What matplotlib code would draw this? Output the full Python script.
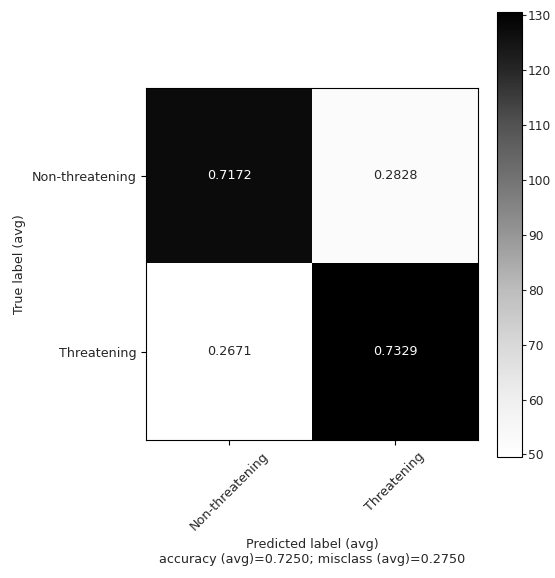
import numpy as np
import matplotlib
matplotlib.use("Agg")
import matplotlib.pyplot as plt

# averaged counts (used for the colours) and normalized values (printed)
labels = ['Non-threatening', 'Threatening']
counts = np.array([[127.4, 52.0],
                   [49.5, 130.6]])
normalized = np.array([[0.7172, 0.2828],
                       [0.2671, 0.7329]])
accuracy = 0.7250
misclass = 0.2750

txt = '#262626'
fig = plt.figure(figsize=(5.55, 5.78), dpi=100)
ax = fig.add_axes([0.263, 0.239, 0.598, 0.609])
cax = fig.add_axes([0.895, 0.209, 0.045, 0.770])

im = ax.imshow(counts, interpolation='nearest', cmap=plt.cm.Greys, aspect='auto')
cb = fig.colorbar(im, cax=cax)
cb.set_ticks([50, 60, 70, 80, 90, 100, 110, 120, 130])
cb.ax.tick_params(labelsize=8.8, colors=txt, pad=1.5, length=3)

tick_marks = np.arange(len(labels))
ax.set_xticks(tick_marks)
ax.set_xticklabels(labels, rotation=45, fontsize=9.2, color=txt)
ax.set_yticks(tick_marks)
ax.set_yticklabels(labels, fontsize=9.2, color=txt)

thresh = counts.max() / 2
for i in range(counts.shape[0]):
    for j in range(counts.shape[1]):
        ax.text(j, i, "{:0.4f}".format(normalized[i, j]),
                ha="center", va="center", fontsize=9.2,
                color="white" if counts[i, j] > thresh else txt)

ax.set_ylabel('True label (avg)', fontsize=9.2, color=txt)
ax.set_xlabel('Predicted label (avg)\naccuracy (avg)={:0.4f}; misclass (avg)={:0.4f}'.format(accuracy, misclass),
              fontsize=9.2, color=txt)

fig.savefig('out.png', dpi=100)
